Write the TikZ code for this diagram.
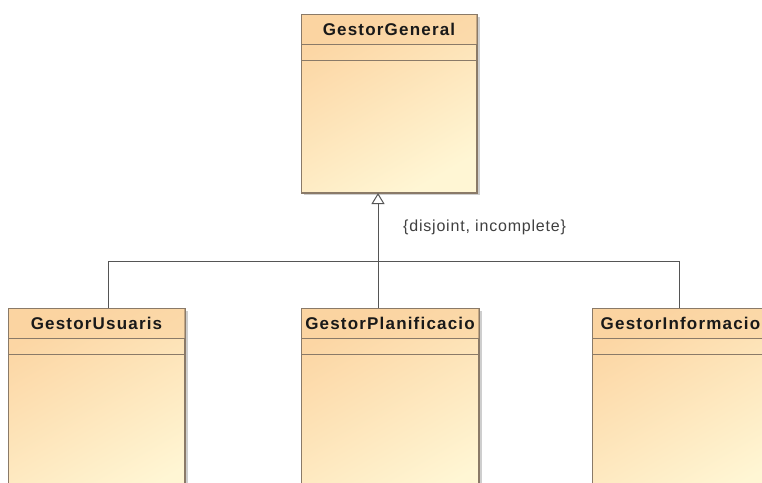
\documentclass[tikz,border=0pt]{standalone}
\usepackage{fontspec}
\setmainfont{Liberation Sans}
\newfontfamily\classfont{Liberation Sans}[LetterSpace=7]
\newfontfamily\notefont{Liberation Sans}[LetterSpace=5]
\usetikzlibrary{arrows.meta}
\definecolor{bodyA}{RGB}{252,214,164}
\definecolor{bodyB}{RGB}{255,246,212}
\definecolor{headA}{RGB}{251,211,160}
\definecolor{edge}{RGB}{138,122,104}
\definecolor{wire}{RGB}{85,85,85}
\tikzset{
  classbox/.style={rectangle, draw=edge, line width=1pt, anchor=north west,
    top color=bodyA, bottom color=bodyB, shading angle=30,
    minimum width=#1, minimum height=178pt, inner sep=0pt},
  boxshadow/.style={fill=black!55, opacity=0.35},
  headband/.style={fill=headA, opacity=0.5},
  sepline/.style={draw=edge, line width=0.8pt},
  classname/.style={font=\classfont\bfseries\fontsize{17}{20}\selectfont, text=black!90, inner sep=0pt},
  note/.style={font=\notefont\fontsize{16}{19}\selectfont, text=black!75, inner sep=0pt},
  conn/.style={draw=wire, line width=1pt},
  genarrow/.style={draw=wire, line width=1pt,
    -{Triangle[open, width=13pt, length=11pt, fill=white]}},
}
\begin{document}
\begin{tikzpicture}[x=1pt, y=-1pt]
\useasboundingbox (0,0) rectangle (762,482);
\fill[white] (0,0) rectangle (762,482);
\clip (0,0) rectangle (762,482);

% drop shadows
\fill[boxshadow] (304,17) rectangle (480,195);
\fill[boxshadow] (11,311) rectangle (188,500);
\fill[boxshadow] (304,311) rectangle (482,500);
\fill[boxshadow] (595,311) rectangle (772,500);

% class boxes
\node[classbox=175pt] (gen) at (301,14) {};
\node[classbox=176pt, minimum height=200pt] (usu) at (8,308) {};
\node[classbox=177pt, minimum height=200pt] (pla) at (301,308) {};
\node[classbox=176pt, minimum height=200pt] (inf) at (592,308) {};

% name compartments and empty attribute compartments
\foreach \b in {gen,usu,pla,inf}{
  \fill[headband] ([shift={(0.5,0.5)}]\b.north west) rectangle ([shift={(-0.5,30)}]\b.north east);
  \draw[sepline] ([shift={(0,30)}]\b.north west) -- ([shift={(0,30)}]\b.north east);
  \draw[sepline] ([shift={(0,46)}]\b.north west) -- ([shift={(0,46)}]\b.north east);
  \draw[draw=edge, line width=1pt] (\b.north west) rectangle (\b.south east);
}

% class names
\node[classname] (tgen) at ([shift={(0,15)}]gen.north) {GestorGeneral};
\node[classname] (tusu) at ([shift={(0,15)}]usu.north) {GestorUsuaris};
\node[classname] (tpla) at ([shift={(0,15)}]pla.north) {GestorPlanificacio};
\node[classname] (tinf) at ([shift={(0,15)}]inf.north) {GestorInformacio};

% generalization set
\coordinate (hu) at (108,261);
\coordinate (hp) at (378,261);
\coordinate (hi) at (679,261);
\draw[conn] (hu) -- (hi);
\draw[conn] (hu) -- (hu |- usu.north);
\draw[conn] (hp) -- (hp |- pla.north);
\draw[conn] (hi) -- (hi |- inf.north);
\draw[genarrow] (hp) -- (hp |- gen.south);

\node[note, anchor=west] (constraint) at (403,227) {\{disjoint, incomplete\}};
\end{tikzpicture}
\end{document}
